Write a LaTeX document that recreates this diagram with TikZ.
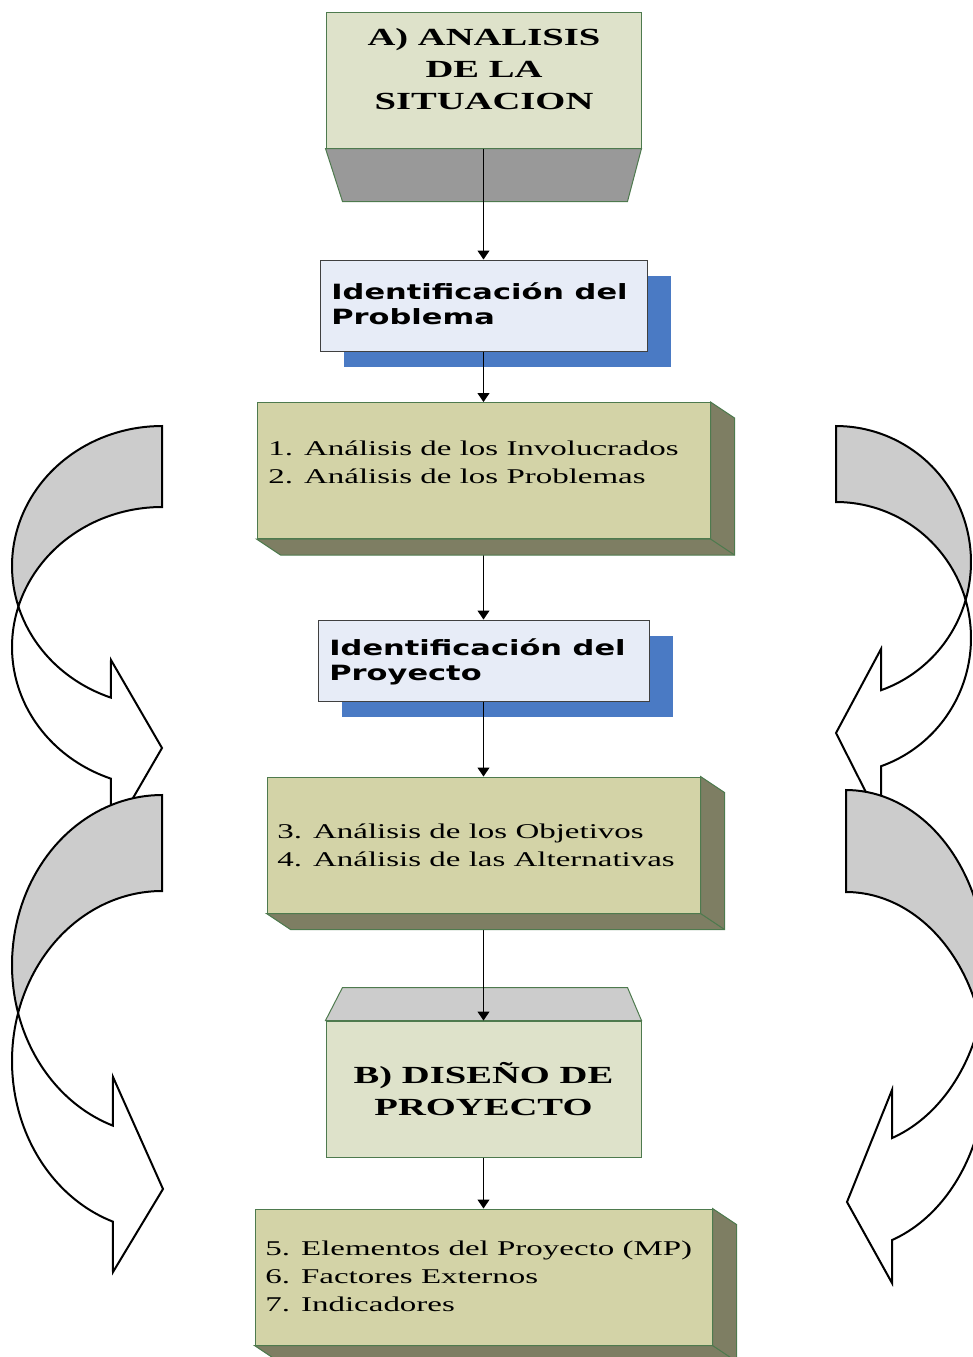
\documentclass[tikz,border=0pt]{standalone}
\usepackage{fontspec}
\usetikzlibrary{arrows.meta,shadows}
\newfontfamily\listfont[FakeStretch=1.57]{Liberation Serif}
\newfontfamily\idfont[FakeStretch=1.45]{DejaVu Sans}
\definecolor{stagefill}{HTML}{DEE2CA}
\definecolor{edgegreen}{HTML}{4E7A4E}
\definecolor{lowface}{HTML}{999999}
\definecolor{topface}{HTML}{CCCCCC}
\definecolor{idfill}{HTML}{E7ECF7}
\definecolor{idline}{HTML}{404040}
\definecolor{idshadow}{HTML}{4A7AC4}
\definecolor{listfill}{HTML}{D3D3A7}
\definecolor{listside}{HTML}{7E7E63}
\definecolor{bandgray}{HTML}{CCCCCC}
\begin{document}
\begin{tikzpicture}[x=0.5pt,y=-0.5pt,
    stage/.style={draw=edgegreen, line width=0.5pt, fill=stagefill, minimum width=157.5pt, minimum height=68pt, inner sep=0pt},
    idbox/.style={draw=idline, line width=0.5pt, fill=idfill, inner sep=0pt, general shadow={fill=idshadow, shadow xshift=11.75pt, shadow yshift=-8pt}},
    listbox/.style={draw=edgegreen, line width=0.5pt, fill=listfill, minimum height=68pt, inner sep=0pt},
    boxside/.style={draw=edgegreen, line width=0.5pt, fill=listside},
    titletext/.style={font={\listfont\bfseries\fontsize{12.3}{16}\selectfont}, align=center, inner sep=0pt},
    listtext/.style={font={\listfont\fontsize{10.5}{14}\selectfont}, align=left, inner sep=0pt, anchor=north west},
    idtext/.style={font={\idfont\bfseries\fontsize{10.5}{12.5}\selectfont}, align=left, inner sep=0pt, anchor=north west},
    link/.style={line width=0.5pt, -{Triangle[width=6pt,length=4.5pt]}},
    bandback/.style={draw, line width=1pt, fill=bandgray},
    bandfront/.style={draw, line width=1pt, fill=white}]
    \useasboundingbox (0,0) rectangle (973,1357);
    \clip (0,0) rectangle (973,1357);

    \filldraw[bandback] plot[domain=-90:16.8, samples=50] ({162-150*cos(\x)},{566+140*sin(\x)})
        -- plot[domain=-16.8:-90, samples=50] ({162-150*cos(\x)},{647+140*sin(\x)}) -- cycle;
    \filldraw[bandfront] plot[domain=-16.8:70.1, samples=50] ({162-150*cos(\x)},{647+140*sin(\x)})
        -- (111,836) -- (162,748) -- (111,660)
        -- plot[domain=70.1:16.8, samples=50] ({162-150*cos(\x)},{566+140*sin(\x)}) -- cycle;
    \filldraw[bandback] plot[domain=-90:16.4, samples=50] ({162-150*cos(\x)},{965+170*sin(\x)})
        -- plot[domain=-16.4:-90, samples=50] ({162-150*cos(\x)},{1061+170*sin(\x)}) -- cycle;
    \filldraw[bandfront] plot[domain=-16.4:70.9, samples=50] ({162-150*cos(\x)},{1061+170*sin(\x)})
        -- (113,1272) -- (163,1189) -- (113,1077)
        -- plot[domain=70.9:16.4, samples=50] ({162-150*cos(\x)},{965+170*sin(\x)}) -- cycle;

    \filldraw[bandback] plot[domain=-90:16.2, samples=50] ({836+135*cos(\x)},{562+136*sin(\x)})
        -- plot[domain=-16.2:-90, samples=50] ({836+135*cos(\x)},{638+136*sin(\x)}) -- cycle;
    \filldraw[bandfront] plot[domain=-16.2:70.5, samples=50] ({836+135*cos(\x)},{638+136*sin(\x)})
        -- (881,822) -- (836,733) -- (881,649)
        -- plot[domain=70.5:16.2, samples=50] ({836+135*cos(\x)},{562+136*sin(\x)}) -- cycle;
    \filldraw[bandback] plot[domain=-90:16.6, samples=50] ({846+140*cos(\x)},{969+179*sin(\x)})
        -- plot[domain=-16.6:-90, samples=50] ({846+140*cos(\x)},{1071+179*sin(\x)}) -- cycle;
    \filldraw[bandfront] plot[domain=-16.6:70.8, samples=50] ({846+140*cos(\x)},{1071+179*sin(\x)})
        -- (892,1283) -- (847,1202) -- (892,1090)
        -- plot[domain=70.8:16.6, samples=50] ({846+140*cos(\x)},{969+179*sin(\x)}) -- cycle;

    \node[stage] (sit) at (483.5,80) {};
    \node[titletext] (sittxt) at (484,69) {A) ANALISIS\\DE LA\\SITUACION};
    \node[idbox, minimum width=163.5pt, minimum height=45.5pt] (idprob) at (483.5,305.5) {};
    \node[idtext] (idprobtxt) at (331,282) {Identificación del\\Problema};
    \node[listbox, minimum width=226.5pt] (inv) at (483.5,470.5) {};
    \node[listtext] (invtxt) at (268,440) {1. Análisis de los Involucrados\\2. Análisis de los Problemas};
    \node[idbox, minimum width=165.5pt, minimum height=40.5pt] (idproy) at (483.5,660.5) {};
    \node[idtext] (idproytxt) at (329,638) {Identificación del\\Proyecto};
    \node[listbox, minimum width=216.5pt] (obj) at (483.5,845) {};
    \node[listtext] (objtxt) at (277,823) {3. Análisis de los Objetivos\\4. Análisis de las Alternativas};
    \node[stage, titletext] (dis) at (483.5,1089) {B) DISEÑO DE\\PROYECTO};
    \node[listbox, minimum width=228.5pt] (mp) at (483.5,1277) {};
    \node[listtext] (mptxt) at (265,1241) {5. Elementos del Proyecto (MP)\\6. Factores Externos\\7. Indicadores};

    \filldraw[draw=edgegreen, line width=0.5pt, fill=lowface] (sit.south west) -- (sit.south east)
        -- ([shift={(-14,53)}]sit.south east) -- ([shift={(17,53)}]sit.south west) -- cycle;
    \filldraw[draw=edgegreen, line width=0.5pt, fill=topface] (dis.north west) -- ([shift={(17,-33)}]dis.north west)
        -- ([shift={(-14,-33)}]dis.north east) -- (dis.north east) -- cycle;

    \draw[link] (sit.south) -- (idprob.north);
    \draw[link] (idprob.south) -- (inv.north);
    \draw[link] (inv.south) -- (idproy.north);
    \draw[link] (idproy.south) -- (obj.north);
    \draw[link] (obj.south) -- (dis.north);
    \draw[link] (dis.south) -- (mp.north);

    \filldraw[boxside] (inv.north east) -- ([shift={(24,16)}]inv.north east) -- ([shift={(24,16)}]inv.south east)
        -- ([shift={(24,16)}]inv.south west) -- (inv.south west) -- (inv.south east) -- cycle;
    \draw[boxside] (inv.south east) -- ([shift={(24,16)}]inv.south east);
    \filldraw[boxside] (obj.north east) -- ([shift={(24,16)}]obj.north east) -- ([shift={(24,16)}]obj.south east)
        -- ([shift={(24,16)}]obj.south west) -- (obj.south west) -- (obj.south east) -- cycle;
    \draw[boxside] (obj.south east) -- ([shift={(24,16)}]obj.south east);
    \filldraw[boxside] (mp.north east) -- ([shift={(24,16)}]mp.north east) -- ([shift={(24,16)}]mp.south east)
        -- ([shift={(24,16)}]mp.south west) -- (mp.south west) -- (mp.south east) -- cycle;
    \draw[boxside] (mp.south east) -- ([shift={(24,16)}]mp.south east);
\end{tikzpicture}
\end{document}
